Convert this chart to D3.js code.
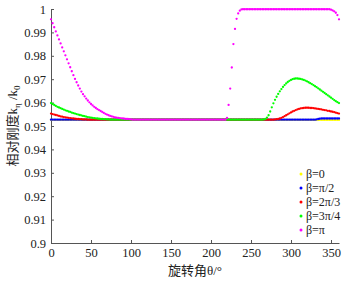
<!DOCTYPE html>
<html>
<head>
<meta charset="utf-8">
<script src="https://cdn.jsdelivr.net/npm/d3@7"></script>
<style>
  body { margin: 0; background: #fff; }
  text { font-family: "Liberation Serif", "Times New Roman", "Noto Sans CJK SC", serif; fill: #222; }
</style>
</head>
<body>
<div id="container"></div>
<script>
/**
 * DATA
 * */
const theta = d3.range(0, 361, 2)   // rotation angle, degrees

const labels = ["β=0", "β=π/2", "β=2π/3", "β=3π/4", "β=π"]
const colors = ["#ffff00", "#0000ff", "#ff0000", "#00ff00", "#ff00ff"]

const beta0 = [
  .9526,.9526,.9526,.9526,.9526,.9526,.9526,.9526,.9526,.9526,
  .9526,.9526,.9526,.9526,.9526,.9526,.9526,.9526,.9526,.9526,
  .9526,.9526,.9526,.9526,.9526,.9526,.9526,.9526,.9526,.9526,
  .9526,.9526,.9526,.9526,.9526,.9526,.9526,.9526,.9526,.9526,
  .9526,.9526,.9526,.9526,.9526,.9526,.9526,.9526,.9526,.9526,
  .9526,.9526,.9526,.9526,.9526,.9526,.9526,.9526,.9526,.9526,
  .9526,.9526,.9526,.9526,.9526,.9526,.9526,.9526,.9526,.9526,
  .9526,.9526,.9526,.9526,.9526,.9526,.9526,.9526,.9526,.9526,
  .9526,.9526,.9526,.9526,.9526,.9526,.9526,.9526,.9526,.9526,
  .9526,.9526,.9526,.9526,.9526,.9526,.9526,.9526,.9526,.9526,
  .9526,.9526,.9526,.9526,.9526,.9526,.9526,.9526,.9526,.9526,
  .9526,.9526,.9526,.9526,.9526,.9526,.9526,.9526,.9526,.9526,
  .9526,.9526,.9526,.9526,.9526,.9526,.9526,.9526,.9526,.9526,
  .9526,.9526,.9526,.9526,.9526,.9526,.9526,.9526,.9526,.9526,
  .9526,.9526,.9526,.9526,.9526,.9526,.9526,.9526,.9526,.9526,
  .9526,.9526,.9526,.9526,.9526,.9526,.9526,.9526,.9526,.9526,
  .9526,.9526,.9526,.9526,.9526,.9526,.9526,.9526,.9526,.9526,
  .9526,.9526,.9526,.9526,.9526,.9526,.9526,.9526,.9526,.9526,
  .9526
]

const betaHalfPi = [
  .9527,.9527,.9527,.9527,.9527,.9527,.9527,.9527,.9527,.9527,
  .9527,.9527,.9527,.9527,.9527,.9527,.9527,.9527,.9527,.9527,
  .9527,.9527,.9527,.9527,.9527,.9527,.9527,.9527,.9527,.9527,
  .9527,.9527,.9527,.9527,.9527,.9527,.9527,.9527,.9527,.9527,
  .9527,.9527,.9527,.9527,.9527,.9527,.9527,.9527,.9527,.9527,
  .9527,.9527,.9527,.9527,.9527,.9527,.9527,.9527,.9527,.9527,
  .9527,.9527,.9527,.9527,.9527,.9527,.9527,.9527,.9527,.9527,
  .9527,.9527,.9527,.9527,.9527,.9527,.9527,.9527,.9527,.9527,
  .9527,.9527,.9527,.9527,.9527,.9527,.9527,.9527,.9527,.9527,
  .9527,.9527,.9527,.9527,.9527,.9527,.9527,.9527,.9527,.9527,
  .9527,.9527,.9527,.9527,.9527,.9527,.9527,.9527,.9527,.9527,
  .9527,.9527,.9527,.9527,.9527,.9527,.9527,.9527,.9527,.9527,
  .9527,.9527,.9527,.9527,.9527,.9527,.9527,.9527,.9527,.9527,
  .9527,.9527,.9527,.9527,.9527,.9527,.9527,.9527,.9527,.9527,
  .9527,.9527,.9527,.9527,.9527,.9527,.9527,.9527,.9527,.9527,
  .9527,.9527,.9527,.9527,.9527,.9527,.9527,.9527,.9527,.9527,
  .9527,.9527,.9527,.9527,.9527,.9527,.9528,.9530,.9531,.9532,
  .9532,.9532,.9532,.9532,.9532,.9532,.9532,.9532,.9532,.9532,
  .9532
]

const beta2Pi3 = [
  .9553,.9551,.9549,.9547,.9545,.9543,.9541,.9540,.9538,.9537,
  .9536,.9535,.9534,.9533,.9532,.9531,.9530,.9530,.9529,.9529,
  .9528,.9528,.9528,.9527,.9527,.9527,.9527,.9527,.9527,.9527,
  .9527,.9527,.9527,.9527,.9527,.9527,.9527,.9527,.9527,.9527,
  .9527,.9527,.9527,.9527,.9527,.9527,.9527,.9527,.9527,.9527,
  .9527,.9527,.9527,.9527,.9527,.9527,.9527,.9527,.9527,.9527,
  .9527,.9527,.9527,.9527,.9527,.9527,.9527,.9527,.9527,.9527,
  .9527,.9527,.9527,.9527,.9527,.9527,.9527,.9527,.9527,.9527,
  .9527,.9527,.9527,.9527,.9527,.9527,.9527,.9527,.9527,.9527,
  .9527,.9527,.9527,.9527,.9527,.9527,.9527,.9527,.9527,.9527,
  .9527,.9527,.9527,.9527,.9527,.9527,.9527,.9527,.9527,.9527,
  .9527,.9527,.9527,.9527,.9527,.9527,.9527,.9527,.9527,.9527,
  .9527,.9527,.9527,.9527,.9527,.9527,.9527,.9527,.9527,.9527,
  .9527,.9527,.9527,.9527,.9527,.9527,.9527,.9527,.9527,.9527,
  .9528,.9529,.9530,.9532,.9535,.9538,.9542,.9546,.9550,.9554,
  .9558,.9562,.9565,.9568,.9571,.9573,.9575,.9576,.9577,.9578,
  .9578,.9578,.9577,.9577,.9576,.9575,.9574,.9573,.9572,.9571,
  .9569,.9568,.9567,.9565,.9564,.9562,.9561,.9559,.9557,.9555,
  .9553
]

const beta3Pi4 = [
  .9598,.9594,.9590,.9586,.9582,.9579,.9576,.9573,.9570,.9567,
  .9565,.9562,.9560,.9557,.9555,.9553,.9551,.9549,.9547,.9545,
  .9543,.9542,.9540,.9538,.9537,.9536,.9535,.9534,.9533,.9532,
  .9531,.9530,.9530,.9529,.9529,.9528,.9528,.9527,.9527,.9527,
  .9527,.9527,.9527,.9527,.9527,.9527,.9527,.9527,.9527,.9527,
  .9527,.9527,.9527,.9527,.9527,.9527,.9527,.9527,.9527,.9527,
  .9527,.9527,.9527,.9527,.9527,.9527,.9527,.9527,.9527,.9527,
  .9527,.9527,.9527,.9527,.9527,.9527,.9527,.9527,.9527,.9527,
  .9527,.9527,.9527,.9527,.9527,.9527,.9527,.9527,.9527,.9527,
  .9527,.9527,.9527,.9527,.9527,.9527,.9527,.9527,.9527,.9527,
  .9527,.9527,.9527,.9527,.9527,.9527,.9527,.9527,.9527,.9527,
  .9527,.9527,.9527,.9527,.9527,.9527,.9527,.9527,.9527,.9527,
  .9527,.9527,.9527,.9527,.9527,.9527,.9527,.9527,.9527,.9527,
  .9527,.9527,.9527,.9528,.9530,.9536,.9546,.9562,.9580,.9597,
  .9612,.9625,.9637,.9648,.9658,.9667,.9675,.9682,.9688,.9693,
  .9697,.9700,.9702,.9703,.9703,.9702,.9701,.9699,.9697,.9694,
  .9691,.9687,.9683,.9679,.9675,.9670,.9666,.9661,.9656,.9651,
  .9646,.9641,.9636,.9631,.9626,.9621,.9616,.9611,.9606,.9602,
  .9598
]

const betaPi = [
  .9956,.9939,.9922,.9904,.9887,.9870,.9853,.9836,.9819,.9802,
  .9785,.9768,.9751,.9734,.9717,.9701,.9687,.9673,.9660,.9647,
  .9636,.9627,.9617,.9609,.9601,.9594,.9588,.9582,.9577,.9572,
  .9568,.9564,.9560,.9556,.9552,.9549,.9546,.9543,.9541,.9539,
  .9537,.9536,.9535,.9534,.9533,.9532,.9531,.9530,.9530,.9529,
  .9528,.9527,.9527,.9527,.9527,.9527,.9527,.9527,.9527,.9527,
  .9527,.9527,.9527,.9527,.9527,.9527,.9527,.9527,.9527,.9527,
  .9527,.9527,.9527,.9527,.9527,.9527,.9527,.9527,.9527,.9527,
  .9527,.9527,.9527,.9527,.9527,.9527,.9527,.9527,.9527,.9527,
  .9527,.9527,.9527,.9527,.9527,.9527,.9527,.9527,.9527,.9527,
  .9527,.9527,.9527,.9527,.9527,.9527,.9527,.9527,.9527,.9527,
  .9535,.9590,.9660,.9750,.9850,.9915,.9958,.9981,.9993,.9998,
  .9999,.9999,.9999,.9999,.9999,.9999,.9999,.9999,.9999,.9999,
  .9999,.9999,.9999,.9999,.9999,.9999,.9999,.9999,.9999,.9999,
  .9999,.9999,.9999,.9999,.9999,.9999,.9999,.9999,.9999,.9999,
  .9999,.9999,.9999,.9999,.9999,.9999,.9999,.9999,.9999,.9999,
  .9999,.9999,.9999,.9999,.9999,.9999,.9999,.9999,.9999,.9999,
  .9999,.9999,.9999,.9999,.9999,.9997,.9994,.9990,.9984,.9974,
  .9956
]

const series = [beta0, betaHalfPi, beta2Pi3, beta3Pi4, betaPi]

const xTicks = [0, 50, 100, 150, 200, 250, 300, 350]
const yTicks = [0.9, 0.91, 0.92, 0.93, 0.94, 0.95, 0.96, 0.97, 0.98, 0.99, 1]
const yTickLabels = ["0.9", "0.91", "0.92", "0.93", "0.94", "0.95", "0.96", "0.97", "0.98", "0.99", "1"]

/**
 * LAYOUT
 * */
const width = 348, height = 281
const margin = { top: 9, right: 9, bottom: 38, left: 51 }

const svg = d3.select("#container")
  .append("svg")
  .attr("width", width)
  .attr("height", height)

const x = d3.scaleLinear()
  .domain([0, 360])
  .range([margin.left, width - margin.right])

const y = d3.scaleLinear()
  .domain([0.9, 1])
  .range([height - margin.bottom, margin.top])

// axes, ticks pointing inward like matlab
const xAxis = svg.append("g")
  .attr("transform", `translate(0,${height - margin.bottom})`)
  .call(d3.axisBottom(x).tickValues(xTicks).tickSizeInner(-3).tickSizeOuter(0).tickPadding(5))

const yAxis = svg.append("g")
  .attr("transform", `translate(${margin.left},0)`)
  .call(d3.axisLeft(y).tickValues(yTicks).tickFormat((d, i) => yTickLabels[i])
    .tickSizeInner(-3).tickSizeOuter(0).tickPadding(5))

svg.selectAll(".domain, .tick line").attr("stroke", "#555")
svg.selectAll(".tick text")
  .style("font-size", "12.5px")
  .style("font-family", "'Liberation Serif', 'Times New Roman', serif")
  .attr("fill", "#222")

// dots, one group per series
series.forEach((vals, k) => {
  svg.append("g")
    .selectAll("circle")
    .data(theta.map((t, i) => [t, vals[i]]))
    .join("circle")
    .attr("cx", d => x(d[0]))
    .attr("cy", d => y(d[1]))
    .attr("r", 1.15)
    .attr("fill", colors[k])
})

// legend
const legend = svg.append("g")
legend.selectAll("circle")
  .data(labels)
  .join("circle")
  .attr("cx", 301)
  .attr("cy", (_, i) => 174 + i * 14)
  .attr("r", 1.5)
  .attr("fill", (_, i) => colors[i])

legend.selectAll("text")
  .data(labels)
  .join("text")
  .attr("x", 306)
  .attr("y", (_, i) => 178 + i * 14)
  .style("font-size", "12px")
  .text(d => d)

// axis titles
svg.append("text")
  .attr("x", (margin.left + width - margin.right) / 2)
  .attr("y", 275)
  .attr("text-anchor", "middle")
  .style("font-size", "13px")
  .attr("fill", "#444")
  .text("旋转角θ/°")

const yTitle = svg.append("text")
  .attr("transform", `translate(17,${(margin.top + height - margin.bottom) / 2}) rotate(-90)`)
  .attr("text-anchor", "middle")
  .style("font-size", "13px")
  .attr("fill", "#444")
yTitle.append("tspan").text("相对刚度k")
yTitle.append("tspan").attr("dy", 3).style("font-size", "9px").text("η")
yTitle.append("tspan").attr("dy", -3).text(" /k")
yTitle.append("tspan").attr("dy", 3).style("font-size", "9px").text("0")
</script>
</body>
</html>
